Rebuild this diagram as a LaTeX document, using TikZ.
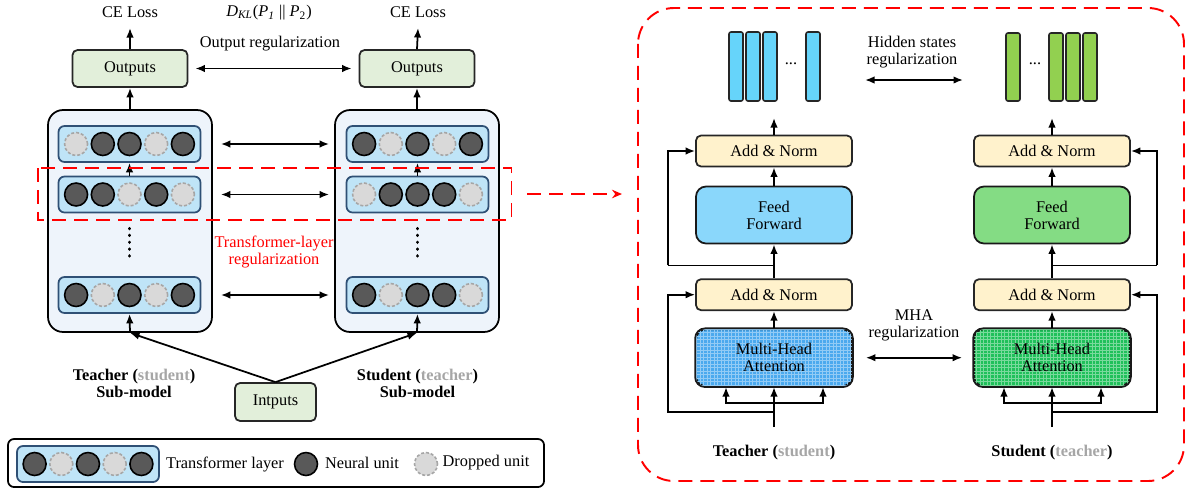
\documentclass[tikz,border=0pt]{standalone}
\usepackage{fontspec}
\setmainfont{Liberation Serif}
\usetikzlibrary{arrows.meta,calc}
\definecolor{outgreen}{HTML}{E2EFDA}
\definecolor{modelbg}{HTML}{EEF4FB}
\definecolor{layerfill}{HTML}{BFE4F7}
\definecolor{layerborder}{HTML}{2F5075}
\definecolor{unitdark}{HTML}{595959}
\definecolor{unitlight}{HTML}{D9D9D9}
\definecolor{dropborder}{HTML}{A6A6A6}
\definecolor{barblue}{HTML}{66D4FA}
\definecolor{bargreen}{HTML}{92D050}
\definecolor{anfill}{HTML}{FFF2CC}
\definecolor{ffblue}{HTML}{8AD7FB}
\definecolor{ffgreen}{HTML}{84DC84}
\definecolor{mhablue}{HTML}{4AA9EE}
\definecolor{mhagreen}{HTML}{1FC05A}
\definecolor{graytxt}{HTML}{A6A6A6}
\definecolor{redd}{HTML}{FF0000}
\tikzset{
  outbox/.style={draw=black!85, line width=1pt, fill=outgreen, rounded corners=0.1cm, minimum width=2.3cm, minimum height=0.74cm, inner sep=0pt},
  inbox/.style={outbox, minimum width=1.62cm, minimum height=0.76cm},
  modelbox/.style={draw=black, line width=1pt, fill=modelbg, rounded corners=0.3cm, minimum width=3.28cm, minimum height=4.44cm, inner sep=0pt},
  layerbox/.style={draw=layerborder, line width=1pt, fill=layerfill, rounded corners=0.12cm, minimum width=2.84cm, minimum height=0.72cm, inner sep=0pt},
  nunit/.style={circle, draw=black, line width=0.9pt, fill=unitdark, minimum size=0.46cm, inner sep=0pt},
  dunit/.style={circle, draw=dropborder, line width=0.9pt, dash pattern=on 0.06cm off 0.04cm, fill=unitlight, minimum size=0.46cm, inner sep=0pt},
  arr/.style={-{Latex[length=1.9mm,width=1.5mm]}, line width=1pt},
  darr/.style={{Latex[length=1.9mm,width=1.5mm]}-{Latex[length=1.9mm,width=1.5mm]}, line width=1pt},
  reddash/.style={draw=redd, line width=1.1pt, dash pattern=on 0.28cm off 0.16cm},
  anbox/.style={draw=black!85, line width=1pt, fill=anfill, rounded corners=0.1cm, minimum width=3.12cm, minimum height=0.62cm, inner sep=0pt},
  bigbox/.style={draw=black!90, line width=1pt, rounded corners=0.2cm, minimum width=3.12cm, minimum height=1.14cm, inner sep=0pt, align=center},
  bar/.style={draw=black!85, line width=0.9pt, rounded corners=0.04cm},
  txt/.style={inner sep=0pt, align=center},
  vdots/.style={line width=1.8pt, line cap=round, dash pattern=on 0.2pt off 0.13cm},
}
\newcommand\mklayer[4]{%
  \node[layerbox] (#1) at (#2,#3) {};
  \foreach \s [count=\i] in {#4} \node[\s] (#1-\i) at ({#2+(\i-3)*26.7},#3) {};
}
\begin{document}
\begin{tikzpicture}[x=0.02cm,y=-0.02cm, font=\rmfamily\fontsize{9.3}{11.3}\selectfont]
\useasboundingbox (0,0) rectangle (1186,491);

% ---------------- left part ----------------
\node[txt] (ceL) at (130,12) {CE Loss};
\node[txt] (ceR) at (418,12) {CE Loss};
\node[txt] (dkl) at (269,13) {\textit{D}\textsubscript{\textit{KL}}(\textit{P}\textsubscript{\textit{1}} || \textit{P}\textsubscript{2})};
\node[txt] (oreg) at (270,44) {Output regularization};
\node[outbox] (outL) at (130,68.5) {Outputs};
\node[outbox] (outR) at (417,68.5) {Outputs};
\draw[arr] (outL.north) -- (ceL.south |- 0,28) coordinate (ceLa);
\draw[arr] (outR.north) -- (ceR.south |- 0,28) coordinate (ceRa);
\draw[darr] ($(outL.east)+(7,0)$) -- ($(outR.west)+(-7,0)$);

\node[modelbox] (mL) at (130,221) {};
\node[modelbox] (mR) at (417,221) {};
\draw[arr] (mL.north) -- (outL.south);
\draw[arr] (mR.north) -- (outR.south);

\mklayer{L1}{129.5}{144}{dunit,nunit,nunit,dunit,nunit}
\mklayer{L2}{129.5}{194.5}{nunit,nunit,dunit,nunit,dunit}
\mklayer{L3}{129.5}{295}{nunit,dunit,nunit,dunit,nunit}
\mklayer{R1}{417.5}{144}{nunit,dunit,nunit,dunit,nunit}
\mklayer{R2}{417.5}{194.5}{dunit,nunit,nunit,nunit,dunit}
\mklayer{R3}{417.5}{295}{nunit,dunit,nunit,nunit,dunit}

\draw[arr] (L2.north) -- (L1.south);
\draw[arr] (R2.north) -- (R1.south);
\draw[arr] (mL.south) -- (L3.south);
\draw[arr] (mR.south) -- (R3.south);
\draw[vdots] ($(L2.south)+(0,15)$) -- ($(L3.north)+(0,-15)$);
\draw[vdots] ($(R2.south)+(0,15)$) -- ($(R3.north)+(0,-15)$);

\draw[darr] ($(mL.east |- L1.east)+(8,0)$) -- ($(mR.west |- R1.west)+(-5,0)$);
\draw[darr] ($(mL.east |- L2.east)+(8,0)$) -- ($(mR.west |- R2.west)+(-5,0)$);
\draw[darr] ($(mL.east |- L3.east)+(8,0)$) -- ($(mR.west |- R3.west)+(-5,0)$);

\draw[reddash] (38.4,168) rectangle (511.5,220);
\coordinate (redS) at (527,194);
\coordinate (redE) at (622,194);
\draw[reddash, -{Stealth[length=2mm,width=1.7mm]}] (redS) -- (redE);
\node[txt, text=redd] (treg) at (274,252) {Transformer-layer\\[-1.7pt]regularization};

\node[inbox] (inp) at (275.5,402) {Intputs};
\draw[arr] (inp.north) -- (mL.south);
\draw[arr] (inp.north) -- (mR.south);

\node[txt] (tsub) at (134,383) {\textbf{Teacher (\textcolor{graytxt}{student})}\\[-1.7pt]\textbf{Sub-model}};
\node[txt] (ssub) at (417.5,383) {\textbf{Student (\textcolor{graytxt}{teacher})}\\[-1.7pt]\textbf{Sub-model}};

% legend
\draw[line width=1pt, rounded corners=0.12cm] (8,439) rectangle (544,487);
\mklayer{LG}{88}{464}{nunit,dunit,nunit,dunit,nunit}
\node[txt] (lgt1) at (225,464) {Transformer layer};
\node[nunit] (lgn) at (306,464) {};
\node[txt] (lgt2) at (362,463) {Neural unit};
\node[dunit] (lgd) at (426,464) {};
\node[txt] (lgt3) at (486,463) {Dropped unit};

% ---------------- right part ----------------
\draw[reddash, rounded corners=0.72cm] (638,8) rectangle (1184,481);

% hidden state bars
\foreach \a in {729,746,763,806} \draw[bar, fill=barblue] (\a,32) rectangle (\a+14,101);
\node[txt] (dotsB) at (791,64) {...};
\foreach \a in {1006,1049,1066,1083} \draw[bar, fill=bargreen] (\a,33) rectangle (\a+14,101);
\node[txt] (dotsG) at (1035,64) {...};
\node[txt] (hreg) at (912,52) {Hidden states\\[-1.7pt]regularization};
\coordinate (hA) at (865,80);
\coordinate (hB) at (963,80);
\draw[darr] (hA) -- (hB);

% teacher block
\node[anbox] (an1L) at (774,151) {Add \& Norm};
\node[bigbox, fill=ffblue] (ffL) at (774,215) {Feed\\[-1.7pt]Forward};
\node[anbox] (an2L) at (774,294.7) {Add \& Norm};
\node[bigbox, fill=mhablue] (mhaL) at (774,357.7) {};
\begin{scope}
  \clip[rounded corners=0.2cm] (mhaL.south west) rectangle (mhaL.north east);
  \draw[white!40!mhablue, line width=0.3pt, step=0.07cm] (mhaL.south west) grid (mhaL.north east);
\end{scope}
\draw[black!90, line width=1pt, rounded corners=0.2cm] (mhaL.south west) rectangle (mhaL.north east);
\node[txt] (mhaLt) at (mhaL) {Multi-Head\\[-1.7pt]Attention};

\coordinate (topL) at (774,118);
\draw[arr] (an1L.north) -- (topL);
\draw[arr] (ffL.north) -- (an1L.south);
\draw[arr] (an2L.north) -- (ffL.south);
\draw[arr] (mhaL.north) -- (an2L.south);
\draw[line width=1pt] ($(ffL.south)!0.62!(an2L.north)$) coordinate (r1L) -- ++(-106,0) coordinate (r1La);
\draw[arr] (r1La) |- (an1L.west);
\coordinate (inL) at (774,427);
\draw[arr] (inL) -- (mhaL.south);
\draw[arr] ($(inL)+(0,-24)$) -| ($(mhaL.south)+(-48,0)$);
\draw[arr] ($(inL)+(0,-24)$) -| ($(mhaL.south)+(49,0)$);
\draw[arr] ($(inL)+(0,-15)$) -- ++(-106,0) |- (an2L.west);

% student block
\node[anbox] (an1R) at (1052,151) {Add \& Norm};
\node[bigbox, fill=ffgreen] (ffR) at (1052,215) {Feed\\[-1.7pt]Forward};
\node[anbox] (an2R) at (1052,294.7) {Add \& Norm};
\node[bigbox, fill=mhagreen] (mhaR) at (1052,357.7) {};
\begin{scope}
  \clip[rounded corners=0.2cm] (mhaR.south west) rectangle (mhaR.north east);
  \draw[white!40!mhagreen, line width=0.3pt, step=0.07cm] (mhaR.south west) grid (mhaR.north east);
\end{scope}
\draw[black!90, line width=1pt, rounded corners=0.2cm] (mhaR.south west) rectangle (mhaR.north east);
\node[txt] (mhaRt) at (mhaR) {Multi-Head\\[-1.7pt]Attention};

\coordinate (topR) at (1052,118);
\draw[arr] (an1R.north) -- (topR);
\draw[arr] (ffR.north) -- (an1R.south);
\draw[arr] (an2R.north) -- (ffR.south);
\draw[arr] (mhaR.north) -- (an2R.south);
\draw[line width=1pt] ($(ffR.south)!0.62!(an2R.north)$) coordinate (r1R) -- ++(105,0) coordinate (r1Ra);
\draw[arr] (r1Ra) |- (an1R.east);
\coordinate (inR) at (1052,427);
\draw[arr] (inR) -- (mhaR.south);
\draw[arr] ($(inR)+(0,-24)$) -| ($(mhaR.south)+(-48,0)$);
\draw[arr] ($(inR)+(0,-24)$) -| ($(mhaR.south)+(49,0)$);
\draw[arr] ($(inR)+(0,-15)$) -- ++(105,0) |- (an2R.east);

\node[txt] (mreg) at (914,325) {MHA\\[-1.7pt]regularization};
\draw[darr] ($(mhaL.east)+(13,0)$) -- ($(mhaR.west)+(-11,0)$);

\node[txt] (tlab) at (774,453) {\textbf{Teacher (\textcolor{graytxt}{student})}};
\node[txt] (slab) at (1052,453) {\textbf{Student (\textcolor{graytxt}{teacher})}};
\end{tikzpicture}
\end{document}
